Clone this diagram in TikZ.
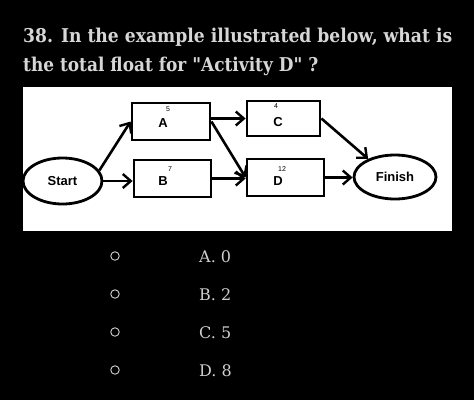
\documentclass[tikz,border=0pt]{standalone}
\usepackage{fontspec}
\usepackage{graphicx}
\setmainfont{DejaVu Serif}
\newfontfamily\diagfont{Liberation Sans}
\usetikzlibrary{arrows.meta,shapes.geometric}
\definecolor{txtgrey}{HTML}{D6D6D6}
\definecolor{optgrey}{HTML}{CFCFCF}
\tikzset{
  actbox/.style={draw=black,line width=2.8pt,fill=white,inner sep=0pt},
  endnode/.style={ellipse,draw=black,line width=2.8pt,fill=white,inner sep=0pt,font=\diagfont\bfseries\fontsize{13}{15}\selectfont},
  conn/.style={line width=2.6pt,-{Straight Barb[length=8pt,width=14pt,line width=2.4pt]}},
  lett/.style={font=\diagfont\bfseries\fontsize{13}{15}\selectfont,inner sep=0pt},
  dur/.style={font=\diagfont\fontsize{7}{8}\selectfont,inner sep=0pt},
  title/.style={anchor=base west,inner sep=0pt,text=txtgrey,font=\bfseries\fontsize{19}{23}\selectfont},
  opt/.style={anchor=base west,inner sep=0pt,text=optgrey,font=\fontsize{16}{19}\selectfont},
  radio/.style={circle,draw=optgrey,line width=0.9pt,minimum size=8.5pt,inner sep=0pt}
}
\begin{document}
\begin{tikzpicture}[x=1pt,y=-1pt]
\fill[black] (0,0) rectangle (474,400);
\useasboundingbox (0,0) rectangle (474,400);
\node[title] (t1) at (23,42) {\resizebox{429pt}{\height}{38. In the example illustrated below, what is}};
\node[title] (t2) at (23,71) {\resizebox{295pt}{\height}{the total float for \textquotedbl Activity D\textquotedbl\ ?}};
\fill[white] (23,87) rectangle (452,231);
% nodes
\node[actbox,minimum width=78pt,minimum height=37pt] (A) at (171,121.5) {};
\node[actbox,minimum width=77pt,minimum height=37pt] (B) at (172.5,178.5) {};
\node[actbox,minimum width=73pt,minimum height=35pt] (C) at (283.5,118.5) {};
\node[actbox,minimum width=77pt,minimum height=37pt] (D) at (285.5,177.5) {};
\node[endnode,minimum width=79pt,minimum height=46pt] (S) at (62.5,181) {Start};
\node[endnode,minimum width=82pt,minimum height=44pt] (F) at (395,177) {Finish};
\node[lett] (Al) at (163,123) {A};
\node[dur] (An) at (168,109) {5};
\node[lett] (Bl) at (163,181) {B};
\node[dur] (Bn) at (170,169) {7};
\node[lett] (Cl) at (278,122) {C};
\node[dur] (Cn) at (276,106) {4};
\node[lett] (Dl) at (278,181) {D};
\node[dur] (Dn) at (282,169) {12};
% connectors
\draw[conn] (S.16) -- (A.west);
\draw[conn] (S.east) -- (S.east -| B.west);
\draw[conn] (A.east |- C.west) -- (C.west);
\draw[conn] (A.east) -- (D.west);
\draw[conn] (B.east) -- (B.east -| D.west);
\draw[conn] (C.east) -- (F.146);
\draw[conn] (D.east) -- (D.east -| F.west);
% options
\node[radio] (r1) at (115,256) {};
\node[radio] (r2) at (115,294) {};
\node[radio] (r3) at (115,332) {};
\node[radio] (r4) at (115,370) {};
\node[opt] (o1) at (199,262) {A. 0};
\node[opt] (o2) at (199,300) {B. 2};
\node[opt] (o3) at (199,338) {C. 5};
\node[opt] (o4) at (199,376) {D. 8};
\end{tikzpicture}
\end{document}
